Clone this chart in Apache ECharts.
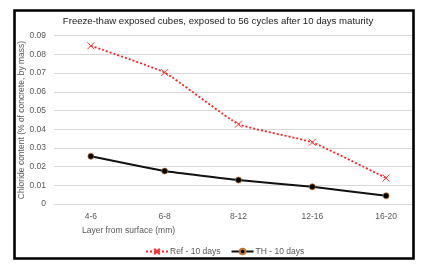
<!DOCTYPE html>
<html><head><meta charset="utf-8">
<script src="https://cdn.jsdelivr.net/npm/echarts@6/dist/echarts.min.js"></script>
<style>html,body{margin:0;padding:0;background:#fff}#c{width:423px;height:269px}</style>
</head><body><div id="c"></div>
<script>
const categories = ['4-6', '6-8', '8-12', '12-16', '16-20'];
const refValues = [0.0846, 0.0703, 0.0427, 0.033, 0.0139];
const thValues = [0.0255, 0.0176, 0.0128, 0.0092, 0.0044];
const yTicks = [0, 0.01, 0.02, 0.03, 0.04, 0.05, 0.06, 0.07, 0.08, 0.09];
const titleText = 'Freeze-thaw exposed cubes, exposed to 56 cycles after 10 days maturity';
const yName = 'Chloride content (% of concrete, by mass)';
const xName = 'Layer from surface (mm)';
const refName = 'Ref - 10 days';
const thName = 'TH - 10 days';

const font = 'Liberation Sans';
const chart = echarts.init(document.getElementById('c'));
chart.setOption({
  animation: false,
  textStyle: { fontFamily: font },
  title: { text: titleText, left: 213, top: 11, textAlign: 'center',
    textStyle: { fontSize: 9.6, fontWeight: 'normal', color: '#222', fontFamily: font } },
  grid: { left: 54, right: 0, top: 35.7, bottom: 65 },
  xAxis: { type: 'category', data: categories, boundaryGap: true,
    axisLine: { show: true, lineStyle: { color: '#d9d9d9' } },
    axisTick: { show: false },
    axisLabel: { color: '#595959', fontSize: 8.5, margin: 8, fontFamily: font } },
  yAxis: { type: 'value', min: yTicks[0], max: yTicks[yTicks.length - 1], interval: 0.01,
    axisLine: { show: false }, axisTick: { show: false },
    splitLine: { lineStyle: { color: '#d9d9d9' } },
    axisLabel: { color: '#595959', fontSize: 8.5, margin: 8, fontFamily: font,
      formatter: v => String(Math.round(v * 100) / 100) } },
  legend: { left: 140, top: 242, itemWidth: 22, itemHeight: 7, itemGap: 10,
    textStyle: { color: '#595959', fontSize: 8.5, fontFamily: font, padding: [0, 0, 0, -3] },
    data: [refName, thName] },
  series: [
    { name: refName, type: 'line', data: refValues, smooth: 0.12,
      symbol: 'path://M0,0L10,10M10,0L0,10', symbolSize: 7,
      lineStyle: { color: '#ff2020', width: 1.8, type: [2, 2] },
      itemStyle: { color: 'rgba(0,0,0,0)', borderColor: '#ff3030', borderWidth: 1 } },
    { name: thName, type: 'line', data: thValues, smooth: 0.12,
      symbol: 'circle', symbolSize: 6,
      lineStyle: { color: '#111', width: 2 },
      itemStyle: { color: '#000', borderColor: '#c8702a', borderWidth: 0.7 } }
  ],
  graphic: [
    { type: 'text', x: 82, y: 226, z: 50,
      style: { text: xName, fill: '#595959', fontSize: 8.5, fontFamily: font } },
    { type: 'text', x: 22, y: 120, rotation: Math.PI / 2, z: 50,
      style: { text: yName, fill: '#595959', fontSize: 8.5, fontFamily: font,
        align: 'center', verticalAlign: 'middle' } },
    { type: 'rect', z: 90, shape: { x: 414, y: 0, width: 9, height: 269 },
      style: { fill: '#fff' } },
    { type: 'rect', z: 100, shape: { x: 14.5, y: 10.5, width: 399, height: 248 },
      style: { fill: 'none', stroke: '#000', lineWidth: 2.6 } }
  ]
});
</script></body></html>
